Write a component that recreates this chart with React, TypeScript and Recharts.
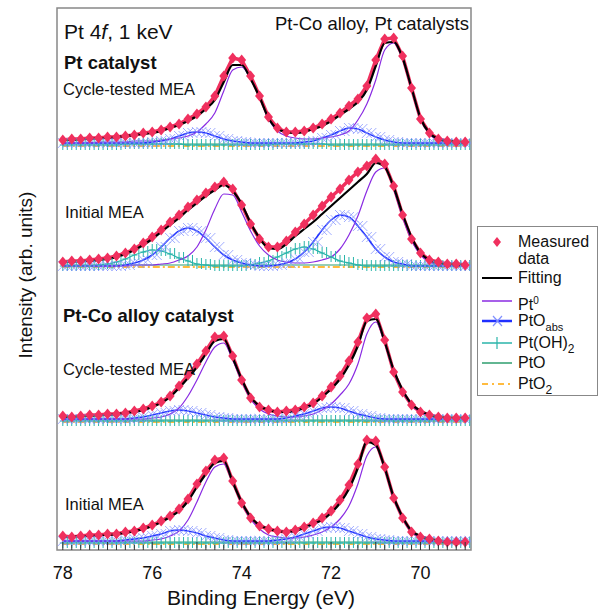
import React from "react";
import { ComposedChart, Line, XAxis, YAxis, ReferenceArea } from "recharts";

// binding energy grid (eV), also used as the minor tick positions
const energies = [
  78.0, 77.8, 77.6, 77.4, 77.2, 77.0, 76.8, 76.6, 76.4, 76.2,
  76.0, 75.8, 75.6, 75.4, 75.2, 75.0, 74.8, 74.6, 74.4, 74.2,
  74.0, 73.8, 73.6, 73.4, 73.2, 73.0, 72.8, 72.6, 72.4, 72.2,
  72.0, 71.8, 71.6, 71.4, 71.2, 71.0, 70.8, 70.6, 70.4, 70.2,
  70.0, 69.8, 69.6, 69.4, 69.2, 69.0,
];
const majorLabels = [78, 76, 74, 72, 70];

// vertical offset of each stacked spectrum (arb. units)
const offsets = [404, 283, 128, 6];

// Pt catalyst, cycle-tested MEA
const s1Measured = [6, 7, 7, 8, 8, 9, 9, 10, 11, 13, 14, 16, 19, 22, 27, 32, 39, 50, 70, 88, 86, 70, 50, 29, 18, 14, 14, 15, 18, 22, 27, 33, 40, 47, 60, 86, 107, 108, 90, 58, 27, 13, 7, 5, 4, 4];
const s1Fit = [6, 6, 7, 7, 8, 8, 9, 10, 11, 12, 13, 15, 18, 21, 25, 30, 37, 46, 64, 81, 81, 67, 49, 28, 17, 14, 13, 14, 17, 20, 25, 31, 37, 44, 56, 80, 103, 104, 88, 58, 28, 13, 7, 5, 4, 3];
const s1Pt0 = [3, 3, 3, 3, 4, 4, 4, 4, 5, 5, 5, 6, 7, 8, 10, 14, 22, 33, 55, 76, 79, 67, 49, 27, 15, 10, 8, 7, 7, 8, 9, 11, 15, 26, 42, 66, 96, 103, 87, 57, 27, 12, 6, 4, 3, 3];
const s1PtOabs = [3, 3, 3, 3, 3, 3, 3, 3, 3, 3, 4, 5, 7, 10, 13, 14, 13, 10, 7, 5, 4, 3, 3, 3, 3, 3, 3, 4, 5, 8, 11, 15, 18, 17, 13, 9, 6, 4, 3, 3, 3, 3, 3, 3, 3, 3];
const s1PtOH2 = [1, 1, 1, 1, 1, 1, 1, 2, 2, 2, 2, 2, 2, 2, 1, 1, 1, 1, 1, 1, 1, 1, 1, 1, 2, 2, 2, 2, 2, 2, 1, 1, 1, 1, 1, 1, 1, 1, 1, 1, 1, 1, 1, 1, 1, 1];

// Pt catalyst, initial MEA
const s2Measured = [5, 6, 6, 7, 8, 9, 11, 14, 18, 24, 30, 37, 45, 52, 60, 67, 74, 80, 85, 78, 62, 43, 28, 20, 20, 26, 35, 43, 52, 61, 70, 78, 87, 95, 101, 108, 103, 81, 52, 28, 14, 7, 5, 3, 3, 2];
const s2Fit = [5, 5, 6, 6, 7, 8, 10, 13, 17, 22, 28, 35, 42, 49, 57, 64, 71, 77, 82, 76, 63, 44, 29, 19, 18, 23, 31, 38, 45, 53, 61, 69, 77, 85, 93, 104, 100, 80, 53, 30, 14, 7, 4, 3, 2, 2];
const s2Pt0 = [1, 1, 1, 1, 1, 1, 1, 1, 2, 2, 2, 3, 4, 7, 11, 20, 37, 58, 73, 72, 55, 36, 21, 12, 7, 5, 4, 4, 5, 7, 10, 18, 32, 51, 76, 95, 99, 78, 50, 27, 12, 5, 2, 1, 1, 1];
const s2PtOabs = [1, 1, 1, 1, 1, 1, 1, 2, 4, 7, 12, 20, 29, 36, 39, 36, 29, 20, 12, 7, 4, 2, 1, 1, 2, 4, 8, 15, 25, 37, 47, 52, 50, 41, 30, 18, 10, 5, 3, 1, 1, 1, 1, 1, 1, 1];
const s2PtOH2 = [1, 1, 1, 1, 2, 3, 5, 8, 12, 15, 17, 16, 13, 9, 6, 3, 2, 1, 1, 1, 1, 2, 4, 6, 10, 14, 18, 20, 18, 14, 10, 6, 4, 2, 1, 1, 1, 1, 1, 1, 1, 1, 1, 1, 1, 1];

// Pt-Co alloy catalyst, cycle-tested MEA
const s3Measured = [6, 5, 6, 7, 7, 8, 8, 9, 11, 13, 16, 20, 26, 36, 47, 58, 71, 85, 86, 66, 42, 24, 15, 12, 10, 11, 12, 15, 19, 26, 35, 46, 61, 80, 104, 108, 82, 50, 30, 17, 10, 7, 5, 4, 4, 4];
const s3Fit = [5, 5, 6, 6, 7, 7, 8, 9, 10, 12, 15, 19, 25, 34, 44, 55, 68, 81, 83, 64, 43, 25, 16, 12, 10, 10, 11, 14, 18, 25, 33, 43, 57, 76, 101, 103, 80, 52, 32, 18, 11, 7, 5, 4, 4, 4];
const s3Pt0 = [3, 3, 3, 3, 3, 3, 3, 3, 3, 3, 4, 5, 8, 14, 26, 42, 60, 75, 79, 62, 41, 23, 13, 8, 6, 5, 5, 6, 8, 12, 18, 27, 38, 58, 88, 100, 79, 51, 31, 17, 10, 6, 4, 3, 3, 3];
const s3PtOabs = [3, 3, 3, 3, 3, 3, 3, 3, 4, 5, 7, 9, 11, 12, 11, 9, 7, 5, 4, 3, 3, 3, 3, 3, 3, 4, 6, 8, 11, 14, 15, 14, 11, 8, 6, 4, 3, 3, 3, 3, 3, 3, 3, 3, 3, 3];

// Pt-Co alloy catalyst, initial MEA
const s4Measured = [8, 7, 8, 9, 9, 10, 10, 12, 13, 16, 19, 23, 28, 35, 45, 60, 73, 84, 86, 63, 41, 26, 18, 15, 13, 12, 14, 17, 21, 26, 33, 44, 59, 80, 104, 103, 77, 46, 26, 12, 7, 5, 3, 2, 2, 2];
const s4Fit = [7, 7, 8, 8, 9, 9, 10, 11, 13, 15, 18, 22, 27, 33, 43, 57, 70, 81, 83, 62, 42, 27, 19, 15, 13, 12, 13, 16, 20, 24, 31, 41, 55, 76, 102, 99, 76, 47, 27, 13, 8, 5, 3, 2, 2, 2];
const s4Pt0 = [3, 3, 3, 3, 3, 3, 3, 3, 3, 3, 4, 5, 8, 13, 24, 42, 62, 77, 80, 61, 41, 25, 15, 9, 7, 6, 6, 7, 9, 12, 17, 25, 38, 60, 88, 97, 75, 46, 26, 12, 7, 4, 3, 2, 2, 2];
const s4PtOabs = [3, 3, 3, 3, 3, 3, 3, 4, 5, 6, 8, 10, 13, 14, 13, 11, 8, 6, 4, 3, 3, 3, 3, 3, 4, 5, 7, 10, 13, 16, 17, 16, 13, 10, 7, 5, 4, 3, 3, 3, 3, 3, 3, 3, 3, 3];

// minor components that stay on the baseline
const ptOH2Flat = [1, 1, 1, 1, 1, 1, 1, 1, 1, 1, 1, 1, 1, 1, 1, 1, 1, 1, 1, 1, 1, 1, 1, 1, 1, 1, 1, 1, 1, 1, 1, 1, 1, 1, 1, 1, 1, 1, 1, 1, 1, 1, 1, 1, 1, 1];
const ptOFlat = [2, 2, 2, 2, 2, 2, 2, 2, 2, 2, 2, 2, 2, 2, 2, 2, 2, 2, 2, 2, 2, 2, 2, 2, 2, 2, 2, 2, 2, 2, 2, 2, 2, 2, 2, 2, 2, 2, 2, 2, 2, 2, 2, 2, 2, 2];
const ptO2Flat = [0, 0, 0, 0, 0, 0, 0, 0, 0, 0, 0, 0, 0, 0, 0, 0, 0, 0, 0, 0, 0, 0, 0, 0, 0, 0, 0, 0, 0, 0, 0, 0, 0, 0, 0, 0, 0, 0, 0, 0, 0, 0, 0, 0, 0, 0];

const spectra = [
  { measured: s1Measured, fit: s1Fit, pt0: s1Pt0, abs: s1PtOabs, oh: s1PtOH2, pto: ptOFlat, pto2: ptO2Flat },
  { measured: s2Measured, fit: s2Fit, pt0: s2Pt0, abs: s2PtOabs, oh: s2PtOH2, pto: ptOFlat, pto2: ptO2Flat },
  { measured: s3Measured, fit: s3Fit, pt0: s3Pt0, abs: s3PtOabs, oh: ptOH2Flat, pto: ptOFlat, pto2: ptO2Flat },
  { measured: s4Measured, fit: s4Fit, pt0: s4Pt0, abs: s4PtOabs, oh: ptOH2Flat, pto: ptOFlat, pto2: ptO2Flat },
];
const seriesKeys = ["measured", "fit", "pt0", "abs", "oh", "pto", "pto2"];

const data = energies.map((e, i) => {
  const row: Record<string, number> = { e };
  spectra.forEach((s: any, k) => {
    seriesKeys.forEach((key) => {
      row[`${key}${k}`] = offsets[k] + s[key][i];
    });
  });
  return row;
});

const FONT = "'Liberation Sans', Arial, Helvetica, sans-serif";
const RED = "#f0305e";
const PURPLE = "#8a2be2";
const BLUE = "#1f2fff";
const LIGHT_BLUE = "#8090ff";
const TEAL = "#2ab5aa";
const GREEN = "#2e9e6e";
const ORANGE = "#ffa500";
const X_DOMAIN = [68.87, 78.13];

const diamondDot = (p: any) => {
  const { cx, cy, index } = p;
  if (cx == null || cy == null) return <g key={`d-${index}`} />;
  return <path key={`d-${index}`} d={`M${cx},${cy - 5.5}L${cx + 4.5},${cy}L${cx},${cy + 5.5}L${cx - 4.5},${cy}Z`} fill={RED} />;
};

const crossDot = (p: any) => {
  const { cx, cy, index } = p;
  if (cx == null || cy == null) return <g key={`x-${index}`} />;
  return (
    <path
      key={`x-${index}`}
      d={`M${cx - 5},${cy - 5}L${cx + 5},${cy + 5}M${cx - 5},${cy + 5}L${cx + 5},${cy - 5}M${cx - 0.5},${cy - 5}L${cx + 9.5},${cy + 5}M${cx - 0.5},${cy + 5}L${cx + 9.5},${cy - 5}`}
      stroke={LIGHT_BLUE}
      strokeOpacity={0.75}
      strokeWidth={1}
      fill="none"
    />
  );
};

const plusDot = (p: any) => {
  const { cx, cy, index } = p;
  if (cx == null || cy == null) return <g key={`p-${index}`} />;
  return (
    <path
      key={`p-${index}`}
      d={`M${cx},${cy - 6}L${cx},${cy + 5}M${cx - 3},${cy}L${cx + 3},${cy}M${cx + 4.5},${cy - 6}L${cx + 4.5},${cy + 5}`}
      stroke={TEAL}
      strokeWidth={1}
      fill="none"
    />
  );
};

const isMajor = (v: number) => Math.abs(v - Math.round(v)) < 0.01;

const BottomTick = (props: any) => {
  const { x, y, payload } = props;
  const v = payload.value;
  const major = isMajor(v);
  const showLabel = major && majorLabels.includes(Math.round(v));
  return (
    <g>
      <line x1={x} x2={x} y1={y} y2={y - (major ? 8 : 5)} stroke="#333" strokeWidth={1} />
      {showLabel && (
        <text x={x} y={y + 29} textAnchor="middle" fontSize={18} fill="#111" fontFamily={FONT}>
          {Math.round(v)}
        </text>
      )}
    </g>
  );
};

const TopTick = (props: any) => {
  const { x, y, payload } = props;
  const major = isMajor(payload.value);
  return <line x1={x} x2={x} y1={y} y2={y + (major ? 8 : 5)} stroke="#333" strokeWidth={1} />;
};

function LegendIcon({ kind }: { kind: string }) {
  return (
    <svg width={32} height={16} style={{ position: "absolute", left: 4, top: 1 }}>
      {kind === "measured" && <path d="M15,3L19,8L15,13L11,8Z" fill={RED} />}
      {kind === "fit" && <line x1={0} x2={30} y1={8} y2={8} stroke="#000" strokeWidth={2} />}
      {kind === "pt0" && <line x1={0} x2={30} y1={8} y2={8} stroke={PURPLE} strokeWidth={1.5} />}
      {kind === "abs" && (
        <g>
          <line x1={0} x2={30} y1={8} y2={8} stroke={BLUE} strokeWidth={2.5} />
          <path d="M11,3L20,13M11,13L20,3" stroke={LIGHT_BLUE} strokeWidth={1.2} />
        </g>
      )}
      {kind === "oh" && (
        <g>
          <line x1={0} x2={30} y1={8} y2={8} stroke={TEAL} strokeWidth={1.5} />
          <line x1={15} x2={15} y1={2} y2={14} stroke={TEAL} strokeWidth={1.2} />
        </g>
      )}
      {kind === "pto" && <line x1={0} x2={30} y1={8} y2={8} stroke={GREEN} strokeWidth={1.5} />}
      {kind === "pto2" && <line x1={0} x2={30} y1={8} y2={8} stroke={ORANGE} strokeWidth={1.5} strokeDasharray="6 4 2 4" />}
    </svg>
  );
}

const legendRows = [
  { kind: "measured", top: 15, label: <>Measured</> },
  { kind: "", top: 32, label: <>data</> },
  { kind: "fit", top: 51, label: <>Fitting</> },
  { kind: "pt0", top: 74, label: <>Pt<sup style={{ fontSize: 10, verticalAlign: 6 }}>0</sup></> },
  { kind: "abs", top: 94, label: <>PtO<sub style={{ fontSize: 11, verticalAlign: -5 }}>abs</sub></> },
  { kind: "oh", top: 116, label: <>Pt(OH)<sub style={{ fontSize: 12, verticalAlign: -5 }}>2</sub></> },
  { kind: "pto", top: 136, label: <>PtO</> },
  { kind: "pto2", top: 157, label: <>PtO<sub style={{ fontSize: 12, verticalAlign: -5 }}>2</sub></> },
];

export default function App() {
  return (
    <div style={{ position: "absolute", left: 0, top: 0, width: 603, height: 613, background: "#fff", fontFamily: FONT }}>
      <ComposedChart width={603} height={613} data={data} margin={{ top: 8, right: 132, bottom: 33, left: 57 }}>
        <XAxis
          dataKey="e"
          type="number"
          domain={X_DOMAIN}
          reversed
          allowDataOverflow
          ticks={energies}
          interval={0}
          axisLine={false}
          tickLine={false}
          tickSize={0}
          tickMargin={0}
          height={30}
          tick={BottomTick}
        />
        <XAxis
          xAxisId="top"
          orientation="top"
          dataKey="e"
          type="number"
          domain={X_DOMAIN}
          reversed
          allowDataOverflow
          ticks={energies}
          interval={0}
          axisLine={false}
          tickLine={false}
          tickSize={0}
          tickMargin={0}
          height={0}
          tick={TopTick}
        />
        <YAxis hide type="number" domain={[0, 542]} allowDataOverflow />
        {spectra.map((_, k) => [
          <Line key={`pto2${k}`} dataKey={`pto2${k}`} type="monotone" stroke={ORANGE} strokeWidth={1.5} strokeDasharray="7 3 2 3" dot={false} activeDot={false} isAnimationActive={false} />,
          <Line key={`ohm${k}`} dataKey={`oh${k}`} type="monotone" stroke="none" dot={plusDot} activeDot={false} isAnimationActive={false} />,
          <Line key={`absm${k}`} dataKey={`abs${k}`} type="monotone" stroke="none" dot={crossDot} activeDot={false} isAnimationActive={false} />,
          <Line key={`pto${k}`} dataKey={`pto${k}`} type="monotone" stroke={GREEN} strokeWidth={1.2} dot={false} activeDot={false} isAnimationActive={false} />,
          <Line key={`oh${k}`} dataKey={`oh${k}`} type="monotone" stroke={TEAL} strokeWidth={1.2} dot={false} activeDot={false} isAnimationActive={false} />,
          <Line key={`measured${k}`} dataKey={`measured${k}`} type="linear" stroke={RED} strokeWidth={3.5} strokeLinejoin="round" dot={diamondDot} activeDot={false} isAnimationActive={false} />,
          <Line key={`abs${k}`} dataKey={`abs${k}`} type="monotone" stroke={BLUE} strokeWidth={1.6} dot={false} activeDot={false} isAnimationActive={false} />,
          <Line key={`pt0${k}`} dataKey={`pt0${k}`} type="monotone" stroke={PURPLE} strokeWidth={1.2} dot={false} activeDot={false} isAnimationActive={false} />,
          <Line key={`fit${k}`} dataKey={`fit${k}`} type="monotone" stroke="#000" strokeWidth={2.2} dot={false} activeDot={false} isAnimationActive={false} />,
        ])}
        <ReferenceArea x1={X_DOMAIN[0]} x2={X_DOMAIN[1]} y1={0} y2={542} fill="none" stroke="#888" strokeWidth={1.5} ifOverflow="visible" />
      </ComposedChart>

      <svg width={603} height={613} style={{ position: "absolute", left: 0, top: 0, pointerEvents: "none" }} fontFamily={FONT} fill="#111">
        <text x={64} y={39} fontSize={21}>
          Pt 4<tspan fontStyle="italic">f</tspan>, 1 keV
        </text>
        <text x={469} y={30} fontSize={18.5} textAnchor="end">Pt-Co alloy, Pt catalysts</text>
        <text x={64} y={69} fontSize={18.5} fontWeight="bold">Pt catalyst</text>
        <text x={63} y={95} fontSize={16.5}>Cycle-tested MEA</text>
        <text x={65} y={218} fontSize={16.5}>Initial MEA</text>
        <text x={63} y={322} fontSize={18.5} fontWeight="bold">Pt-Co alloy catalyst</text>
        <text x={63} y={375} fontSize={16.5}>Cycle-tested MEA</text>
        <text x={65} y={510} fontSize={16.5}>Initial MEA</text>
        <text x={25} y={275} fontSize={19} textAnchor="middle" dominantBaseline="central" transform="rotate(-90 25 275)">
          Intensity (arb. units)
        </text>
        <text x={261} y={605} fontSize={21} textAnchor="middle">Binding Energy (eV)</text>
      </svg>

      <div style={{ position: "absolute", left: 477, top: 226, width: 121, height: 170, boxSizing: "border-box", border: "1px solid #888", background: "#fff" }}>
        {legendRows.map((r, i) => (
          <div key={i} style={{ position: "absolute", left: 0, top: r.top - 9, height: 18, width: 119, fontSize: 16, lineHeight: "18px", color: "#111" }}>
            {r.kind && <LegendIcon kind={r.kind} />}
            <span style={{ position: "absolute", left: 40, top: 0, whiteSpace: "nowrap" }}>{r.label}</span>
          </div>
        ))}
      </div>
    </div>
  );
}
